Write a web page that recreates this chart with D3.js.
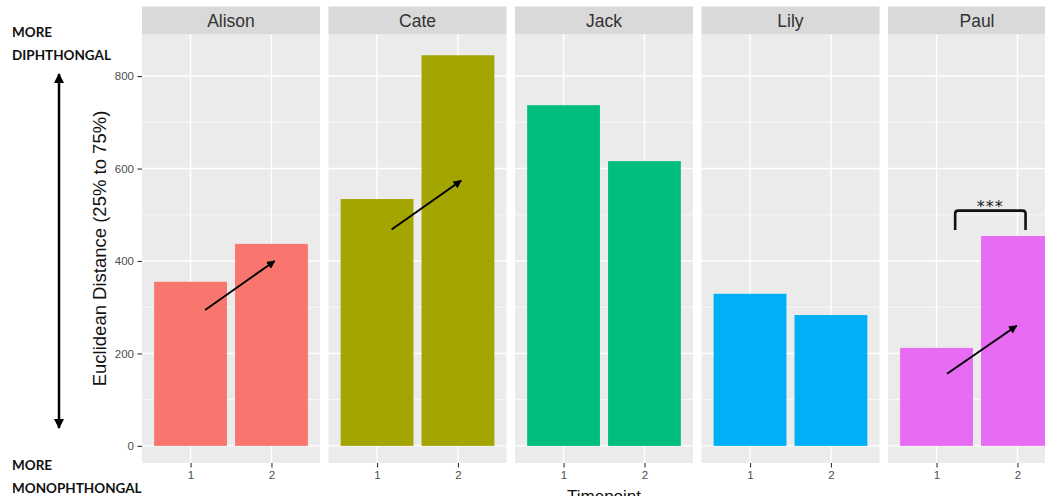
<!DOCTYPE html>
<html>
<head>
<meta charset="utf-8">
<script src="https://cdn.jsdelivr.net/npm/d3@7"></script>
<style>
  html, body { margin: 0; padding: 0; background: #fff; overflow: hidden; }
  svg { display: block; }
</style>
</head>
<body>
<svg id="chart" width="1045" height="496"></svg>
<script>
// Speakers (facets), timepoints and mean Euclidean distance per speaker/timepoint
const speakers = ["Alison", "Cate", "Jack", "Lily", "Paul"];
const timepoints = [1, 2];
const distanceT1 = [355, 534, 737, 329, 212];
const distanceT2 = [437, 845, 616, 283, 454];
const speakerColors = ["#F8766D", "#A3A500", "#00BF7D", "#00B0F6", "#E76BF3"];
const yTicks = [0, 200, 400, 600, 800];
const yMinor = [100, 300, 500, 700];

// Trend arrows drawn inside facets (timepoint position, distance value)
const trendArrows = [
  { speaker: "Alison", x1: 1.18, y1: 294, x2: 2.04, y2: 400 },
  { speaker: "Cate",   x1: 1.18, y1: 468, x2: 2.04, y2: 574 },
  { speaker: "Paul",   x1: 1.13, y1: 156, x2: 1.99, y2: 260 }
];
// Significance bracket
const sigBracket = { speaker: "Paul", x1: 1.23, x2: 2.10, yTop: 509, yLeg: 467, label: "***" };

const svg = d3.select("#chart");

const margin = { left: 142, top: 34, bottom: 463 };
const panelW = 178, panelGap = 8.5, stripH = 27.5;
const panelX = i => margin.left + i * (panelW + panelGap);

const y = d3.scaleLinear().domain([-37, 891]).range([margin.bottom, margin.top]);
const x = d3.scaleLinear().domain([0.4, 2.6]).range([0, panelW]);
const barHalf = 0.45;

const defs = svg.append("defs");
defs.append("marker")
  .attr("id", "head")
  .attr("viewBox", "0 0 10 10")
  .attr("refX", 9).attr("refY", 5)
  .attr("markerWidth", 4.2).attr("markerHeight", 4.2)
  .attr("markerUnits", "strokeWidth")
  .attr("orient", "auto-start-reverse")
  .append("path").attr("d", "M0,0 L10,5 L0,10 Z").attr("fill", "#000");

speakers.forEach((name, i) => {
  const g = svg.append("g").attr("transform", `translate(${panelX(i)},0)`);
  const values = [distanceT1[i], distanceT2[i]];

  // strip
  g.append("rect")
    .attr("x", 0).attr("y", margin.top - stripH)
    .attr("width", panelW).attr("height", stripH)
    .attr("fill", "#D9D9D9");
  g.append("text")
    .attr("x", panelW / 2).attr("y", margin.top - stripH / 2)
    .attr("dy", "0.36em")
    .attr("text-anchor", "middle")
    .attr("font-family", "'Liberation Sans', Arial, sans-serif")
    .attr("font-size", 17.5)
    .attr("fill", "#333")
    .text(name);

  // panel background
  g.append("rect")
    .attr("x", 0).attr("y", margin.top)
    .attr("width", panelW).attr("height", margin.bottom - margin.top)
    .attr("fill", "#EBEBEB");

  // gridlines
  g.selectAll(".minor").data(yMinor).join("line")
    .attr("x1", 0).attr("x2", panelW)
    .attr("y1", d => y(d)).attr("y2", d => y(d))
    .attr("stroke", "#fff").attr("stroke-width", 0.7);
  g.selectAll(".major").data(yTicks).join("line")
    .attr("x1", 0).attr("x2", panelW)
    .attr("y1", d => y(d)).attr("y2", d => y(d))
    .attr("stroke", "#fff").attr("stroke-width", 1.4);
  g.selectAll(".vgrid").data(timepoints).join("line")
    .attr("x1", d => x(d)).attr("x2", d => x(d))
    .attr("y1", margin.top).attr("y2", margin.bottom)
    .attr("stroke", "#fff").attr("stroke-width", 1.4);

  // bars
  g.selectAll(".bar").data(timepoints.map((t, j) => ({ t, v: values[j] }))).join("rect")
    .attr("class", "bar")
    .attr("x", d => x(d.t - barHalf))
    .attr("width", d => x(d.t + barHalf) - x(d.t - barHalf))
    .attr("y", d => y(d.v))
    .attr("height", d => y(0) - y(d.v))
    .attr("fill", speakerColors[i]);

  // x axis
  const xa = g.append("g")
    .attr("transform", `translate(0,${margin.bottom})`)
    .call(d3.axisBottom(x).tickValues(timepoints).tickSize(4.5).tickPadding(3).tickFormat(d3.format("d")));
  xa.select(".domain").remove();
  xa.selectAll("line").attr("stroke", "#333").attr("stroke-width", 1.1);
  xa.selectAll("text")
    .attr("font-family", "'Liberation Sans', Arial, sans-serif")
    .attr("font-size", 11.5).attr("fill", "#4D4D4D");

  // annotations in this facet
  trendArrows.filter(a => a.speaker === name).forEach(a => {
    g.append("line")
      .attr("x1", x(a.x1)).attr("y1", y(a.y1))
      .attr("x2", x(a.x2)).attr("y2", y(a.y2))
      .attr("stroke", "#000").attr("stroke-width", 2)
      .attr("marker-end", "url(#head)");
  });
  if (sigBracket.speaker === name) {
    const b = sigBracket;
    g.append("path")
      .attr("d", `M${x(b.x1)},${y(b.yLeg)} L${x(b.x1)},${y(b.yTop) + 3} Q${x(b.x1)},${y(b.yTop)} ${x(b.x1) + 3},${y(b.yTop)} L${x(b.x2) - 3},${y(b.yTop)} Q${x(b.x2)},${y(b.yTop)} ${x(b.x2)},${y(b.yTop) + 3} L${x(b.x2)},${y(b.yLeg)}`)
      .attr("fill", "none").attr("stroke", "#111").attr("stroke-width", 2.6);
    g.append("text")
      .attr("x", x((b.x1 + b.x2) / 2)).attr("y", y(b.yTop) + 1)
      .attr("text-anchor", "middle")
      .attr("font-family", "'DejaVu Sans', sans-serif")
      .attr("font-size", 16)
      .attr("letter-spacing", 1)
      .attr("fill", "#222")
      .text(b.label);
  }
});

// y axis on the first facet
const ya = svg.append("g")
  .attr("transform", `translate(${margin.left},0)`)
  .call(d3.axisLeft(y).tickValues(yTicks).tickSize(4.5).tickPadding(3.5));
ya.select(".domain").remove();
ya.selectAll("line").attr("stroke", "#333").attr("stroke-width", 1.1);
ya.selectAll("text")
  .attr("font-family", "'Liberation Sans', Arial, sans-serif")
  .attr("font-size", 11.5).attr("fill", "#4D4D4D");

// axis titles
svg.append("text")
  .attr("transform", `translate(106,${(margin.top + margin.bottom) / 2}) rotate(-90)`)
  .attr("text-anchor", "middle")
  .attr("font-family", "'Liberation Sans', Arial, sans-serif")
  .attr("font-size", 18.5)
  .attr("fill", "#111")
  .text("Euclidean Distance (25% to 75%)");
svg.append("text")
  .attr("x", 604).attr("y", 502)
  .attr("text-anchor", "middle")
  .attr("font-family", "'Liberation Sans', Arial, sans-serif")
  .attr("font-size", 17)
  .attr("fill", "#111")
  .text("Timepoint");

// side scale: diphthongal vs monophthongal
const side = svg.append("g")
  .attr("font-family", "Lato, 'Open Sans', sans-serif")
  .attr("font-weight", "bold")
  .attr("font-size", 13.5)
  .attr("fill", "#111");
side.append("text").attr("x", 12).attr("y", 37).text("MORE");
side.append("text").attr("x", 12).attr("y", 60).text("DIPHTHONGAL");
side.append("text").attr("x", 12).attr("y", 470).text("MORE");
side.append("text").attr("x", 12).attr("y", 493).text("MONOPHTHONGAL");

svg.append("line")
  .attr("x1", 59).attr("y1", 74).attr("x2", 59).attr("y2", 428)
  .attr("stroke", "#000").attr("stroke-width", 2.5)
  .attr("marker-start", "url(#head)")
  .attr("marker-end", "url(#head)");
</script>
</body>
</html>
